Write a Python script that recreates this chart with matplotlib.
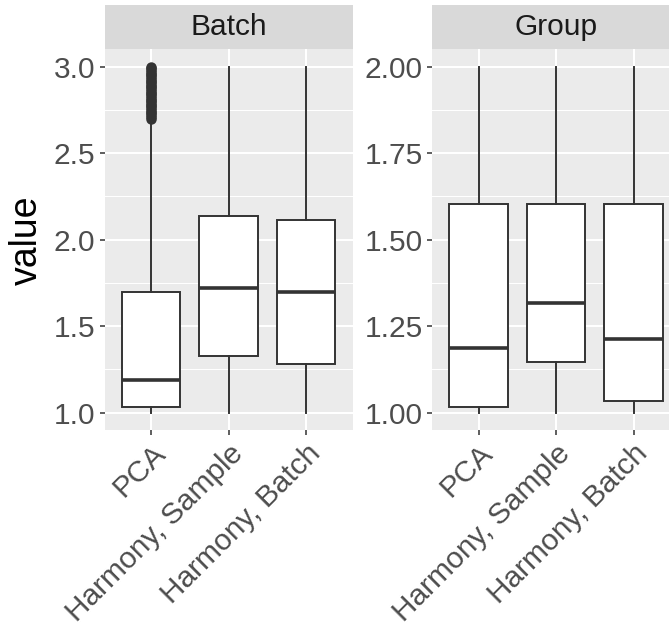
import matplotlib
matplotlib.use("Agg")
import matplotlib.pyplot as plt
import numpy as np

plt.rcParams["font.family"] = ["Liberation Sans", "DejaVu Sans"]

methods = ["PCA", "Harmony, Sample", "Harmony, Batch"]
facets = ["Batch", "Group"]

# Five-number summaries per facet, in the order of `methods`
batch_whislo = [1.00, 1.00, 1.00]
batch_q1 = [1.031, 1.329, 1.282]
batch_median = [1.189, 1.722, 1.696]
batch_q3 = [1.700, 2.139, 2.112]
batch_whishi = [2.69, 3.00, 3.00]
batch_pca_outliers = [2.70, 2.71, 2.72, 2.73, 2.74, 2.75, 2.76, 2.77, 2.78, 2.79,
                      2.80, 2.81, 2.82, 2.83, 2.84, 2.85, 2.86, 2.87, 2.88, 2.89,
                      2.90, 2.91, 2.92, 2.93, 2.94, 2.95, 2.96, 2.97, 2.98, 2.99, 3.00]

group_whislo = [1.00, 1.00, 1.00]
group_q1 = [1.016, 1.146, 1.033]
group_median = [1.186, 1.318, 1.214]
group_q3 = [1.603, 1.603, 1.602]
group_whishi = [2.00, 2.00, 2.00]

batch_ticks = [1.0, 1.5, 2.0, 2.5, 3.0]
batch_ticklabels = ["1.0", "1.5", "2.0", "2.5", "3.0"]
group_ticks = [1.00, 1.25, 1.50, 1.75, 2.00]
group_ticklabels = ["1.00", "1.25", "1.50", "1.75", "2.00"]

W, H = 669, 630
fig = plt.figure(figsize=(W / 100, H / 100), dpi=100)

INK = "#333333"
PANEL = "#EBEBEB"
STRIP = "#D9D9D9"
TICKTXT = "#4D4D4D"
FS = 21.5


def px_rect(x0, y0, x1, y1):
    return [x0 / W, 1 - y1 / H, (x1 - x0) / W, (y1 - y0) / H]


def make_stats(lo, q1, med, q3, hi, fliers=None):
    out = []
    for i in range(len(lo)):
        out.append(dict(whislo=lo[i], q1=q1[i], med=med[i], q3=q3[i],
                        whishi=hi[i], fliers=(fliers[i] if fliers else [])))
    return out


def panel(xpix, stats, ticks, ticklabels, title):
    x0, x1 = xpix
    y0, y1 = 49.4, 430.0
    ax = fig.add_axes(px_rect(x0, y0, x1, y1))
    ax.set_facecolor(PANEL)
    lo, hi = ticks[0], ticks[-1]
    span = hi - lo
    ax.set_ylim(lo - 0.05 * span, hi + 0.05 * span)
    ax.set_xlim(0.4, 3.6)

    # minor grid halfway between the major breaks
    minors = [(ticks[i] + ticks[i + 1]) / 2 for i in range(len(ticks) - 1)]
    for m in minors:
        ax.axhline(m, color="white", lw=0.75, zorder=0)
    for t in ticks:
        ax.axhline(t, color="white", lw=1.5, zorder=0)
    for p in range(1, len(methods) + 1):
        ax.axvline(p, color="white", lw=1.5, zorder=0)

    ax.bxp(stats, positions=[1, 2, 3], widths=0.75, showcaps=False,
           patch_artist=True,
           boxprops=dict(facecolor="white", edgecolor=INK, linewidth=1.4),
           whiskerprops=dict(color=INK, linewidth=1.4),
           medianprops=dict(color=INK, linewidth=2.6, solid_capstyle="butt"),
           flierprops=dict(marker="o", markersize=6.5, markerfacecolor=INK,
                           markeredgecolor=INK, linestyle="none"),
           zorder=2)

    ax.set_yticks(ticks)
    ax.set_yticklabels(ticklabels)
    ax.set_xticks([1, 2, 3])
    ax.set_xticklabels(methods, rotation=45, ha="right", va="top",
                       rotation_mode="anchor")
    ax.tick_params(axis="both", colors=INK, length=3.6, width=1.1,
                   labelcolor=TICKTXT, labelsize=FS, pad=3.2)
    for s in ax.spines.values():
        s.set_visible(False)

    sax = fig.add_axes(px_rect(x0, 5, x1, y0))
    sax.set_facecolor(STRIP)
    sax.set_xticks([])
    sax.set_yticks([])
    for s in sax.spines.values():
        s.set_visible(False)
    sax.text(0.5, 0.5, title, transform=sax.transAxes, ha="center",
             va="center", fontsize=FS, color="#1A1A1A")
    return ax


batch_fliers = [batch_pca_outliers, [], []]
panel((104.5, 352.5),
      make_stats(batch_whislo, batch_q1, batch_median, batch_q3, batch_whishi,
                 batch_fliers),
      batch_ticks, batch_ticklabels, facets[0])
panel((432.0, 680.0),
      make_stats(group_whislo, group_q1, group_median, group_q3, group_whishi),
      group_ticks, group_ticklabels, facets[1])

fig.text(27 / W, 1 - 240 / H, "value", rotation=90, ha="center", va="center",
         fontsize=27, color="black")

fig.savefig("out.png", dpi=100)
